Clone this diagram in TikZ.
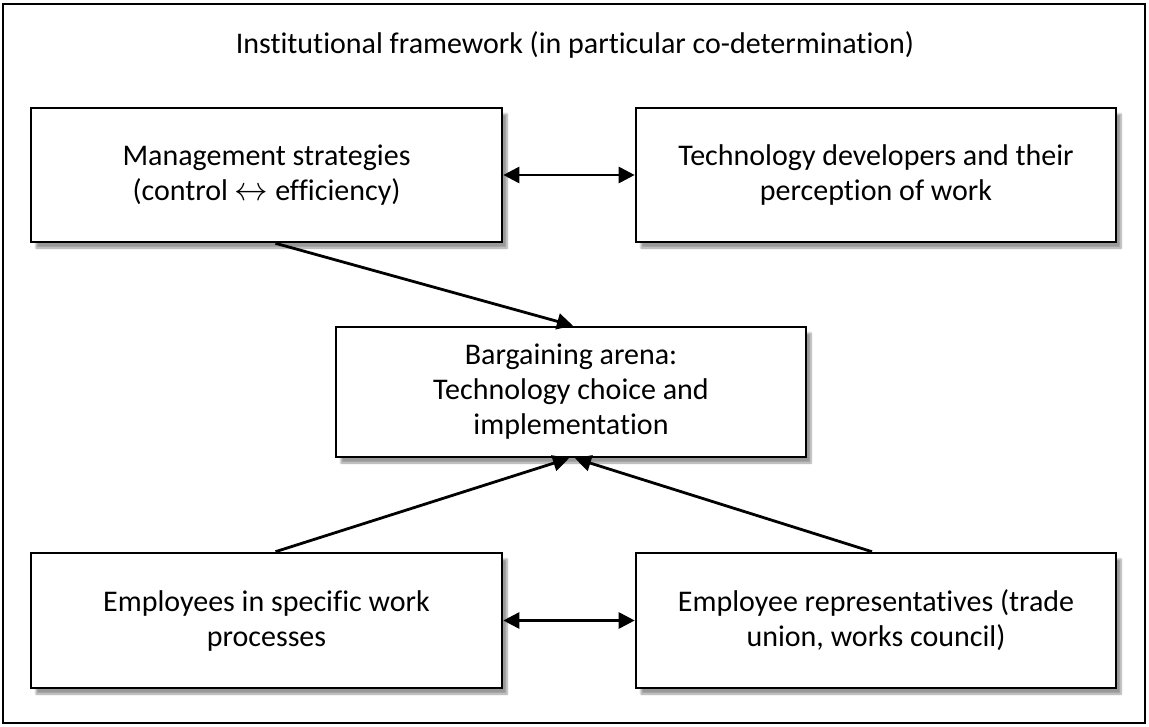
\documentclass[tikz,border=0pt]{standalone}
\usepackage{fontspec}
\setmainfont{Carlito}[Ligatures=NoCommon]
\usepackage{tikz}
\usetikzlibrary{arrows.meta,shadows.blur}

\tikzset{
  block/.style={draw=black, line width=2.6pt, fill=white, align=center,
    inner sep=0pt, font=\fontsize{30}{35}\selectfont,
    blur shadow={shadow xshift=5pt, shadow yshift=-6pt, shadow blur steps=6, shadow opacity=40}},
  link/.style={line width=2.8pt, -{Triangle[length=16pt,width=16pt]}},
  twoway/.style={line width=2.8pt, {Triangle[length=16pt,width=16pt]}-{Triangle[length=16pt,width=16pt]}}
}

\begin{document}
\begin{tikzpicture}[x=1pt,y=-1pt]
  \useasboundingbox (0,0) rectangle (1149,727);
  % frame
  \draw[line width=2pt] (3,4) rectangle (1145,723);
  \node[font=\fontsize{30}{35}\selectfont] (frame) at (575,45)
    {Institutional framework (in particular co-determination)};
  % boxes
  \node[block, minimum width=471pt, minimum height=134pt] (mgmt) at (266.5,175)
    {Management strategies\\(control \smash{\scalebox{1.35}{$\leftrightarrow$}} efficiency)};
  \node[block, minimum width=480pt, minimum height=134pt] (tech) at (876,175)
    {Technology developers and their\\perception of work};
  \node[block, minimum width=470pt, minimum height=130pt] (arena) at (571,392)
    {Bargaining arena:\\Technology choice and\\implementation};
  \node[block, minimum width=471pt, minimum height=135pt] (staff) at (266.5,620.5)
    {Employees in specific work\\processes};
  \node[block, minimum width=480pt, minimum height=135pt] (reps) at (876,620.5)
    {Employee representatives (trade\\union, works council)};
  % connectors
  \draw[twoway] (mgmt) -- (tech);
  \draw[twoway] (staff) -- (reps);
  \draw[link] ([xshift=9pt]mgmt.south) -- ([xshift=2pt]arena.north);
  \draw[link] ([xshift=9pt]staff.north) -- ([xshift=-2pt]arena.south);
  \draw[link] ([xshift=-4pt]reps.north) -- ([xshift=4pt]arena.south);
\end{tikzpicture}
\end{document}
